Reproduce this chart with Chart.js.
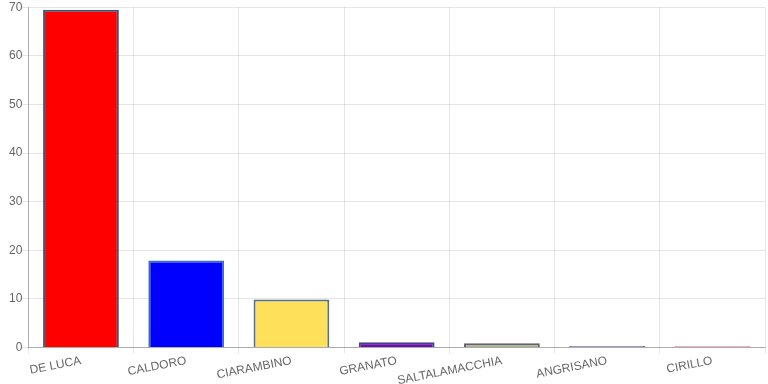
<!DOCTYPE html>
<html>
<head>
<meta charset="utf-8">
<script src="https://cdn.jsdelivr.net/npm/chart.js@4.4.0/dist/chart.umd.min.js"></script>
<style>
  html, body { margin: 0; padding: 0; background: #fff; }
  #wrap { width: 768px; height: 384px; position: relative; }
</style>
</head>
<body>
<div id="wrap"><canvas id="votesChart"></canvas></div>
<script>
const candidates = ["DE LUCA", "CALDORO", "CIARAMBINO", "GRANATO", "SALTALAMACCHIA", "ANGRISANO", "CIRILLO"];
const votes = [69.5, 17.9, 9.9, 1.1, 0.9, 0.35, 0.3];
const fillColors = ["#ff0000", "#0000ff", "#ffe05a", "#6a0dab", "#9cbb84", "#8a7ab8", "#e0607f"];
const edgeColors = ["#2f5a78", "#3f6fb0", "#52708c", "#4a3f8a", "#705878", "#7a6aae", "#d65a7a"];
const yTicks = [0, 10, 20, 30, 40, 50, 60, 70];

Chart.defaults.font.family = "'Liberation Sans', Arial, sans-serif";
Chart.defaults.font.size = 12;
Chart.defaults.color = "#666";

const chartData = {
  labels: candidates,
  datasets: [
    {
      label: "Voti %",
      data: votes,
      backgroundColor: fillColors,
      borderColor: edgeColors,
      borderWidth: 2,
    },
  ],
};

const chartConfig = {
  type: "bar",
  data: chartData,
  options: {
    responsive: true,
    maintainAspectRatio: false,
    animation: false,
    layout: { padding: { top: 7, right: 3, left: 9, bottom: -4 } },
    plugins: { legend: { display: false }, tooltip: { enabled: false } },
    scales: {
      x: {
        grid: { color: "rgba(0,0,0,0.1)", tickLength: 6 },
        border: { color: "rgba(0,0,0,0.25)" },
        ticks: { minRotation: 11, maxRotation: 11, padding: 0 },
      },
      y: {
        min: yTicks[0],
        max: yTicks[yTicks.length - 1],
        grid: { color: "rgba(0,0,0,0.1)", tickLength: 6 },
        border: { color: "rgba(0,0,0,0.25)" },
        ticks: { stepSize: 10, padding: 0 },
      },
    },
  },
};

const votesChart = new Chart(document.getElementById("votesChart"), chartConfig);
</script>
</body>
</html>
